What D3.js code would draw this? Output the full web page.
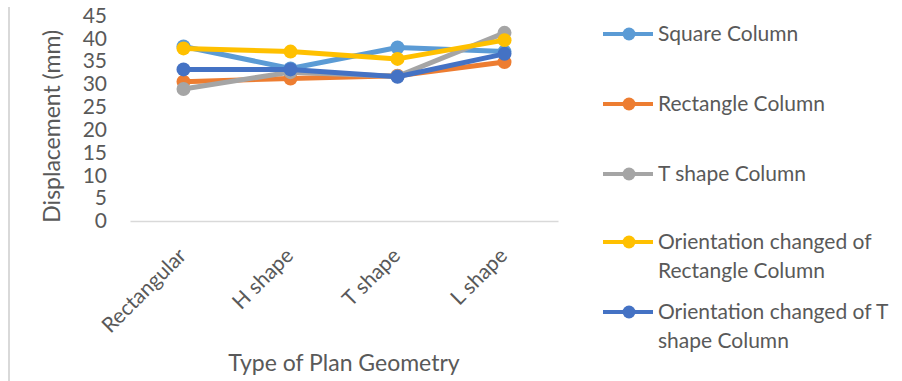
<!DOCTYPE html>
<html>
<head>
<meta charset="utf-8">
<script src="https://cdn.jsdelivr.net/npm/d3@7"></script>
<style>
  html, body { margin: 0; padding: 0; background: #fff; }
  svg { display: block; }
  text { font-family: Lato, "Open Sans", sans-serif; fill: #595959; }
</style>
</head>
<body>
<svg id="chart" width="902" height="381"></svg>
<script>
// Plan geometry categories on the x axis
const categories = ["Rectangular", "H shape", "T shape", "L shape"];

// Displacement (mm) per column type
const squareColumn = [38.2, 33.4, 38.0, 37.1];
const rectangleColumn = [30.5, 31.2, 31.8, 34.8];
const tShapeColumn = [28.9, 32.6, 31.7, 41.2];
const orientRectColumn = [37.8, 37.1, 35.5, 39.6];
const orientTColumn = [33.2, 33.2, 31.6, 36.6];

const seriesNames = [
  "Square Column",
  "Rectangle Column",
  "T shape Column",
  "Orientation changed of Rectangle Column",
  "Orientation changed of T shape Column"
];
const legendLines = [
  ["Square Column"],
  ["Rectangle Column"],
  ["T shape Column"],
  ["Orientation changed of", "Rectangle Column"],
  ["Orientation changed of T", "shape Column"]
];
const seriesValues = [squareColumn, rectangleColumn, tShapeColumn, orientRectColumn, orientTColumn];
const colors = ["#5B9BD5", "#ED7D31", "#A5A5A5", "#FFC000", "#4472C4"];

const yTicks = [0, 5, 10, 15, 20, 25, 30, 35, 40, 45];

const svg = d3.select("#chart");

// chart frame edge on the left
svg.append("line")
  .attr("x1", 9).attr("x2", 9)
  .attr("y1", 7).attr("y2", 381)
  .attr("stroke", "#d9d9d9").attr("stroke-width", 2);

const plot = { left: 130, right: 558, top: 15.5, bottom: 221 };

const x = d3.scaleBand().domain(categories).range([plot.left, plot.right]);
const y = d3.scaleLinear().domain([0, 45]).range([plot.bottom, plot.top]);

// Y axis: labels only
const yAxis = svg.append("g")
  .attr("transform", `translate(${plot.left},0)`)
  .call(d3.axisLeft(y).tickValues(yTicks).tickSize(0).tickPadding(23));
yAxis.select(".domain").remove();
yAxis.selectAll("text")
  .style("font-size", "21px")
  .attr("fill", "#595959");

// X axis baseline
const xAxis = svg.append("g")
  .attr("transform", `translate(0,${plot.bottom})`)
  .call(d3.axisBottom(x).tickSize(0).tickFormat(""));
xAxis.select(".domain").attr("stroke", "#d9d9d9").attr("stroke-width", 1.5);

// Rotated category labels
svg.append("g").selectAll("text")
  .data(categories)
  .join("text")
  .attr("transform", d => `translate(${x(d) + x.bandwidth() / 2 + 4},${plot.bottom + 36}) rotate(-45)`)
  .attr("text-anchor", "end")
  .style("font-size", "21px")
  .text(d => d);

// Axis titles
svg.append("text")
  .attr("transform", `translate(60,${(plot.top + plot.bottom) / 2 + 8}) rotate(-90)`)
  .attr("text-anchor", "middle")
  .style("font-size", "23px")
  .attr("fill", "#404040")
  .text("Displacement (mm)");

svg.append("text")
  .attr("x", 344)
  .attr("y", 371)
  .attr("text-anchor", "middle")
  .style("font-size", "23px")
  .attr("fill", "#404040")
  .text("Type of Plan Geometry");

// Lines and markers
const line = d3.line()
  .x((d, i) => x(categories[i]) + x.bandwidth() / 2)
  .y(d => y(d));

seriesValues.forEach((vals, s) => {
  const g = svg.append("g");
  g.append("path")
    .datum(vals)
    .attr("fill", "none")
    .attr("stroke", colors[s])
    .attr("stroke-width", 5)
    .attr("stroke-linejoin", "round")
    .attr("d", line);
  g.selectAll("circle")
    .data(vals)
    .join("circle")
    .attr("cx", (d, i) => x(categories[i]) + x.bandwidth() / 2)
    .attr("cy", d => y(d))
    .attr("r", 7)
    .attr("fill", colors[s]);
});

// Legend
const legendY = [34, 104, 174, 242, 312];
const legend = svg.append("g");
seriesNames.forEach((name, s) => {
  const g = legend.append("g").attr("transform", `translate(0,${legendY[s]})`);
  g.append("line")
    .attr("x1", 603).attr("x2", 653)
    .attr("y1", 0).attr("y2", 0)
    .attr("stroke", colors[s]).attr("stroke-width", 4);
  g.append("circle")
    .attr("cx", 629).attr("cy", 0).attr("r", 6.5)
    .attr("fill", colors[s]);
  legendLines[s].forEach((ln, k) => {
    g.append("text")
      .attr("x", 658)
      .attr("y", k * 28.5)
      .attr("dy", "0.35em")
      .style("font-size", "21px")
      .text(ln);
  });
});
</script>
</body>
</html>
